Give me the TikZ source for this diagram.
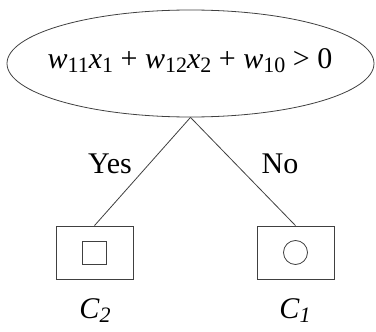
\documentclass[tikz,border=0pt]{standalone}
\usepackage{fontspec}
\setmainfont{Liberation Serif}
\usetikzlibrary{shapes.geometric}
\newcommand\sbx[1]{\raisebox{-4pt}{\fontsize{22}{22}\selectfont #1}}
\tikzset{
  ln/.style={draw=black!75, line width=0.8pt},
  leaf/.style={ln, rectangle, minimum width=77pt, minimum height=53pt, inner sep=0pt},
  lbl/.style={font=\fontsize{30}{32}\selectfont, inner sep=0pt}
}
\begin{document}
\begin{tikzpicture}[x=1pt,y=-1pt]
\useasboundingbox (0,0) rectangle (376,332);
\node[ln, ellipse, minimum width=367pt, minimum height=107pt, inner sep=0pt] (e) at (190.5,63.5) {};
\node[lbl, anchor=base] (eq) at (190,68) {\textit{w}\sbx{11}\textit{x}\sbx{1} + \textit{w}\sbx{12}\textit{x}\sbx{2} + \textit{w}\sbx{10} > 0};
\node[leaf] (l) at (94.5,252.5) {};
\node[leaf] (r) at (295.5,252.5) {};
\node[ln, rectangle, minimum width=24pt, minimum height=23pt, inner sep=0pt] (sq) at (l.center) {};
\node[ln, circle, minimum size=24pt, inner sep=0pt] (ci) at (r.center) {};
\draw[ln] (e.south) -- (l.north);
\draw[ln] (e.south) -- (r.north);
\node[lbl, anchor=base] (yes) at (110,174) {Yes};
\node[lbl, anchor=base] (no) at (280,174) {No};
\node[lbl, anchor=base] (c2) at (95,319) {\itshape C\sbx{2}};
\node[lbl, anchor=base] (c1) at (295,319) {\itshape C\sbx{1}};
\end{tikzpicture}
\end{document}
